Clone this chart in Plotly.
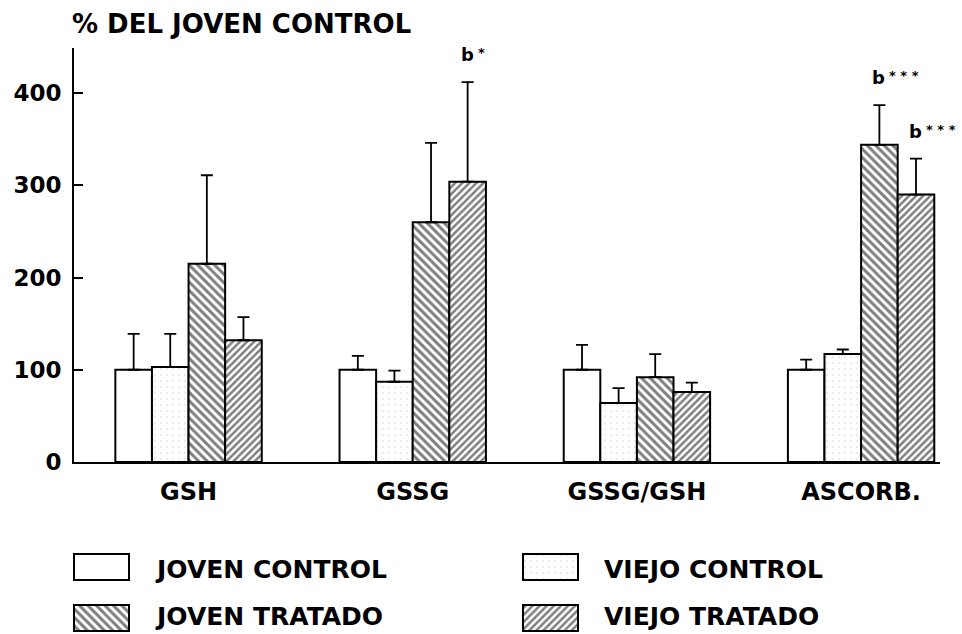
import plotly.graph_objects as go

# ---- data ----
categories = ["GSH", "GSSG", "GSSG/GSH", "ASCORB."]
series_names = ["JOVEN CONTROL", "VIEJO CONTROL", "JOVEN TRATADO", "VIEJO TRATADO"]

joven_control = [100, 100, 100, 100]
viejo_control = [103, 87, 64, 117]
joven_tratado = [215, 260, 92, 344]
viejo_tratado = [132, 304, 76, 290]

joven_control_err = [39, 15, 27, 11]
viejo_control_err = [36, 12, 16, 5]
joven_tratado_err = [96, 86, 25, 43]
viejo_tratado_err = [25, 108, 10, 39]

y_ticks = [0, 100, 200, 300, 400]

# significance labels: (category index, series index, letter, stars)
sig_labels = [
    (1, 3, "b", "*"),
    (3, 2, "b", "* * *"),
    (3, 3, "b", "* * *"),
]

# ---- geometry ----
W = 962
SY = 0.98               # observed vertical factor between figure and photo
H = 647                 # figure height so that H * SY ~= 634


def fy(py):  # target photo y -> figure y
    return py / SY


FONT = "DejaVu Sans"
BAR_W = 0.163  # in category units
values = [joven_control, viejo_control, joven_tratado, viejo_tratado]
errors = [joven_control_err, viejo_control_err, joven_tratado_err, viejo_tratado_err]
patterns = [
    dict(shape="", bgcolor="white"),
    dict(shape=".", fgcolor="#c8c8c8", bgcolor="white", size=6, solidity=0.08),
    dict(shape="\\", fgcolor="black", bgcolor="white", size=6, solidity=0.5),
    dict(shape="/", fgcolor="black", bgcolor="white", size=5, solidity=0.5),
]

fig = go.Figure()
for name, vals, errs, pat in zip(series_names, values, errors, patterns):
    fig.add_trace(go.Bar(
        name=name, x=categories, y=vals,
        marker=dict(color="white", pattern=pat, line=dict(color="black", width=2)),
        error_y=dict(type="data", symmetric=False, array=errs,
                     arrayminus=[0] * len(errs), color="black", thickness=1.8, width=6),
        showlegend=False,
    ))

# significance annotations
for ci, si, letter, stars in sig_labels:
    xpos = ci + (si - 1.5) * BAR_W
    ytop = values[si][ci] + errors[si][ci]
    fig.add_annotation(x=xpos, y=ytop, xref="x", yref="y", text=letter,
                       showarrow=False, xanchor="left", yanchor="bottom",
                       xshift=-9, yshift=15,
                       font=dict(family=FONT, size=18, color="black", weight="bold"))
    fig.add_annotation(x=xpos, y=ytop, xref="x", yref="y", text=stars,
                       showarrow=False, xanchor="left", yanchor="bottom",
                       xshift=8, yshift=20,
                       font=dict(family=FONT, size=13, color="black", weight="bold"))

# ---- legend drawn on an overlay pixel axis (target photo pixels) ----
legend_boxes = [  # (x0, y0) top-left of swatch
    (74, 554), (523, 554), (74, 605), (523, 605),
]
legend_text_y = [570, 570, 617, 617]
SW_W, SW_H = 55, 26
for (x0, y0), ty, name, pat in zip(legend_boxes, legend_text_y, series_names, patterns):
    fig.add_trace(go.Bar(
        x=[x0], y=[fy(y0 + SW_H) - fy(y0)], base=[fy(y0)], width=[SW_W], offset=0,
        xaxis="x2", yaxis="y2",
        marker=dict(color="white", pattern=pat, line=dict(color="black", width=2)),
        showlegend=False, hoverinfo="skip",
    ))
    fig.add_annotation(x=x0 + SW_W + 24, y=fy(ty), xref="x2", yref="y2",
                       text=name, showarrow=False, xanchor="left", yanchor="middle",
                       font=dict(family=FONT, size=25, color="black", weight="bold"))

# axis title at top
fig.add_annotation(x=70 / W, y=1 - fy(7) / H, xref="paper", yref="paper",
                   text="% DEL JOVEN CONTROL", showarrow=False,
                   xanchor="left", yanchor="top",
                   font=dict(family=FONT, size=26, color="black", weight="bold"))

fig.update_layout(
    width=W, height=H,
    margin=dict(l=0, r=0, t=0, b=0),
    paper_bgcolor="white", plot_bgcolor="rgba(0,0,0,0)",
    barmode="group", bargap=0.347, bargroupgap=0,
    font=dict(family=FONT, color="black"),
    xaxis=dict(
        domain=[74 / W, 940 / W], range=[-0.511, 3.352],
        showline=True, linecolor="black", linewidth=2,
        ticks="", showgrid=False, zeroline=False,
        tickfont=dict(family=FONT, size=24, color="black", weight="bold"),
        ticklabelstandoff=7,
    ),
    yaxis=dict(
        domain=[(H - fy(462)) / H, (H - fy(48)) / H], range=[0, 449],
        showline=True, linecolor="black", linewidth=2,
        ticks="inside", ticklen=9, tickwidth=2, tickcolor="black",
        tickvals=y_ticks, showgrid=False, zeroline=False,
        tickfont=dict(family=FONT, size=23, color="black", weight="bold"),
        ticklabelstandoff=6,
    ),
    xaxis2=dict(domain=[0, 1], range=[0, W], visible=False, anchor="y2"),
    yaxis2=dict(domain=[0, 1], range=[H, 0], visible=False, anchor="x2"),
)

fig.write_html(
    "out.html",
    config=dict(displayModeBar=False),
    post_script=(
        "document.documentElement.style.margin='0';"
        "document.body.style.margin='0';"
        "document.documentElement.style.overflow='hidden';"
        "document.body.style.overflow='hidden';"
    ),
)
